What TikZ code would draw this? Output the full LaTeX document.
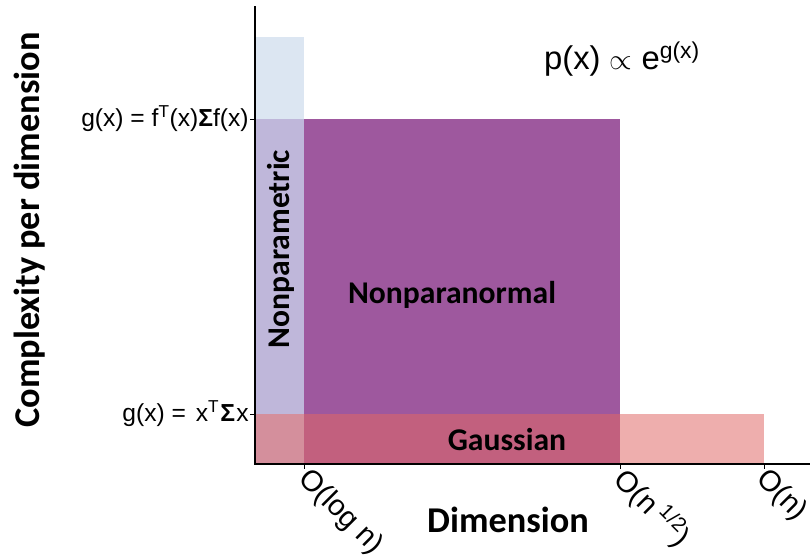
\documentclass[tikz,border=0pt]{standalone}
\usepackage{fontspec}
\setmainfont{Liberation Sans}
\newfontfamily\calib{Carlito}
\usetikzlibrary{positioning}
\definecolor{lblue}{HTML}{DCE6F2}
\definecolor{lavnd}{HTML}{BFB7DA}
\definecolor{plum}{HTML}{9E589E}
\definecolor{pklav}{HTML}{D48F9C}
\definecolor{rose}{HTML}{C2607E}
\definecolor{lpink}{HTML}{EEAEAD}
\tikzset{
  ax/.style={line width=0.9pt, black},
  tk/.style={line width=0.6pt, black},
  ylab/.style={anchor=east, inner sep=1pt, font=\fontsize{21}{25}\selectfont},
  xlab/.style={anchor=west, rotate=-45, inner sep=0pt, font=\fontsize{25}{29}\selectfont},
  reg/.style={font=\calib\bfseries\fontsize{27}{32}\selectfont, inner sep=0pt},
  ttl/.style={font=\calib\bfseries\fontsize{31}{36}\selectfont, inner sep=0pt}}

\begin{document}
\begin{tikzpicture}[x=0.03cm,y=-0.03cm]
  \useasboundingbox (0,0) rectangle (810,554);
  % regions
  \fill [lblue] (255,37) rectangle (304,119);
  \fill [lavnd] (255,119) rectangle (304,414);
  \fill [plum] (304,119) rectangle (620,414);
  \fill [pklav] (255,414) rectangle (304,464);
  \fill [rose] (304,414) rectangle (620,464);
  \fill [lpink] (620,414) rectangle (764,464);
  % axes
  \coordinate (o) at (255,464);
  \coordinate (ytop) at (255,6);
  \coordinate (xend) at (810,464);
  \draw [ax] (ytop) -- (o) -- (xend);
  % y ticks
  \coordinate (y1) at (255,414); \coordinate (y1l) at (250,414);
  \coordinate (y2) at (255,119); \coordinate (y2l) at (250,119);
  \draw [tk] (y1l) -- (y1);
  \draw [tk] (y2l) -- (y2);
  \node [ylab] (gl) at (y1l) {g(x) =\hspace{2.5pt} x\textsuperscript{T}\hspace{1pt}\textbf{Σ}\hspace{1pt}x};
  \node [ylab] (gf) at (y2l) {g(x) = f\textsuperscript{T}(x)\textbf{Σ}f(x)};
  % x ticks
  \coordinate (x1) at (304,464); \coordinate (x1b) at (304,469);
  \coordinate (x2) at (620,464); \coordinate (x2b) at (620,469);
  \coordinate (x3) at (764,464); \coordinate (x3b) at (764,469);
  \draw [tk] (x1) -- (x1b);
  \draw [tk] (x2) -- (x2b);
  \draw [tk] (x3) -- (x3b);
  \node [xlab] (t1) at ([xshift=-1pt,yshift=-5pt]x1b) {O(log n)};
  \node [xlab] (t2) at ([xshift=-1pt,yshift=-5pt]x2b) {O(n\textsuperscript{ 1/2})};
  \node [xlab] (t3) at ([xshift=-3pt,yshift=-5pt]x3b) {O(n)};
  % region labels
  \node [reg] (npn) at (452,295) {Nonparanormal};
  \node [reg] (gau) at (507,440) {Gaussian};
  \node [reg, rotate=90] (npm) at (281,249) {Nonparametric};
  % axis titles
  \node [ttl] (dim) at (508,520) {Dimension};
  \node [ttl, rotate=90] (cpd) at (30,230) {Complexity per dimension};
  % density
  \node [font=\fontsize{28}{33}\selectfont] (pd) at (622,59) {p(x) $\propto$ e\textsuperscript{g(x)}};
\end{tikzpicture}
\end{document}
